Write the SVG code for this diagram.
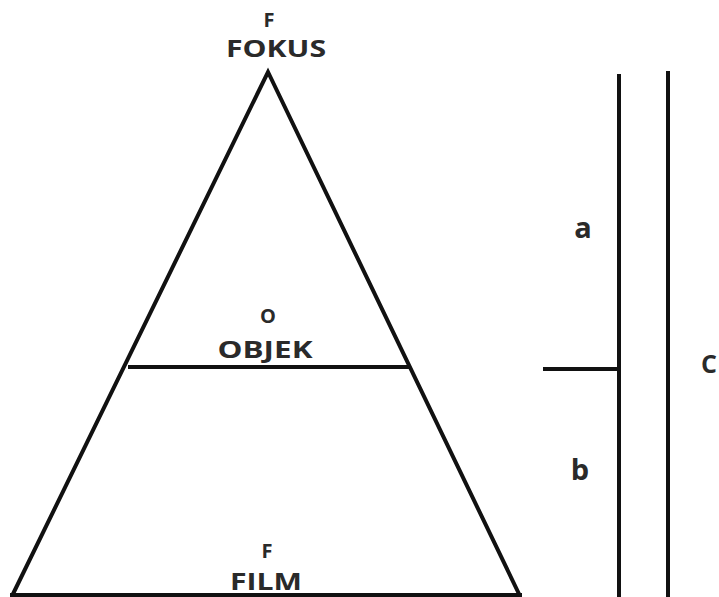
<svg xmlns="http://www.w3.org/2000/svg" width="719" height="597" viewBox="0 0 719 597">
<style>
.ln{stroke:#111;stroke-width:4;fill:none;stroke-linecap:butt}
.t{font-family:"Open Sans","Liberation Sans",sans-serif;font-weight:bold;fill:#2a2a2a;text-anchor:middle}
.s{font-size:20px}
.w{font-size:23px}
.l{font-size:29px}
</style>
<rect width="719" height="597" fill="#fff"/>
<g id="connectors">
<path class="ln" d="M12,596 L268,72 L520,596"/>
<line class="ln" x1="128" y1="367" x2="410" y2="367"/>
<line class="ln" x1="10" y1="595" x2="522" y2="595"/>
<line class="ln" x1="619" y1="74" x2="619" y2="597"/>
<line class="ln" x1="668" y1="71" x2="668" y2="597"/>
<line class="ln" x1="543" y1="369" x2="619" y2="369"/>
</g>
<g id="fokus">
<text class="t s" x="269" y="27">F</text>
<text class="t w" x="276" y="57" textLength="100" lengthAdjust="spacingAndGlyphs">FOKUS</text>
</g>
<g id="objek">
<text class="t s" x="268" y="323">O</text>
<text class="t w" x="265" y="358" textLength="95" lengthAdjust="spacingAndGlyphs">OBJEK</text>
</g>
<g id="film">
<text class="t s" x="267" y="558">F</text>
<text class="t w" x="266" y="590" textLength="72" lengthAdjust="spacingAndGlyphs">FILM</text>
</g>
<g id="label-a"><text class="t l" x="583" y="238">a</text></g>
<g id="label-b"><text class="t l" x="580" y="480">b</text></g>
<g id="label-c"><text class="t w" x="701" y="373" style="text-anchor:start;font-size:25px">C</text></g>
</svg>
